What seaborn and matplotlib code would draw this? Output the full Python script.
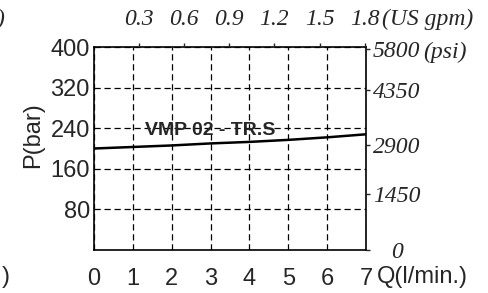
import numpy as np
import pandas as pd
import seaborn as sns
import matplotlib.pyplot as plt

# pressure drop curve
flow_lpm = [0, 1, 2, 3, 4, 5, 6, 7]
pressure_bar = [200, 203, 206, 210, 213, 217, 222, 228]

bar_ticks = [80, 160, 240, 320, 400]
flow_ticks = [0, 1, 2, 3, 4, 5, 6, 7]

# secondary scales as they are printed on the sheet
gpm_ticks = [0.3, 0.6, 0.9, 1.2, 1.5, 1.8]
lpm_per_gpm = 3.87
psi_labels = ['5800', '4350', '2900', '1450', '0']
psi_at_bar = [396, 316, 207, 110, 0]

df = pd.DataFrame({'Q': flow_lpm, 'P': pressure_bar})

sns.set_style('white')
plt.rcParams['font.family'] = ['Liberation Sans', 'DejaVu Sans']

fig = plt.figure(figsize=(4.89, 2.93), dpi=100)
ax = fig.add_axes([94 / 489, 43 / 293, 272 / 489, 203 / 293])

sns.lineplot(data=df, x='Q', y='P', ax=ax, color='black', linewidth=1.8)

ax.set_xlim(0, 7)
ax.set_ylim(0, 400)
ax.set_xticks(flow_ticks)
ax.set_yticks(bar_ticks)
ax.set_xlabel('')
ax.set_ylabel('')
ax.grid(True, color='black', linestyle=(0, (5, 3)), linewidth=0.9)
for s in ax.spines.values():
    s.set_color('black')
    s.set_linewidth(1.2)
ax.tick_params(axis='x', length=0, pad=13, labelsize=17)
ax.tick_params(axis='y', length=0, pad=3, labelsize=17)

serif = dict(family='Liberation Serif', style='italic')

# top axis in US gpm
axt = ax.twiny()
axt.set_xlim(0, 7)
axt.set_xticks([g * lpm_per_gpm for g in gpm_ticks])
axt.set_xticklabels([str(g) for g in gpm_ticks], fontdict=serif, fontsize=17)
axt.tick_params(axis='x', direction='out', length=3, width=1, pad=9)

# right axis in psi
axr = ax.twinx()
axr.set_ylim(0, 400)
axr.set_yticks(psi_at_bar)
axr.set_yticklabels(psi_labels, fontdict=serif, fontsize=17)
axr.tick_params(axis='y', direction='out', length=3, width=1, pad=19)
for lab in axr.get_yticklabels():
    lab.set_ha('center')
for a in (axt, axr):
    for s in a.spines.values():
        s.set_visible(False)

ax.text(3.0, 219, 'VMP 02 - TR.S', ha='center', va='bottom',
        fontweight='bold', fontsize=14)

fig.text(33 / 489, 1 - 135 / 293, 'P(bar)', rotation=90, ha='center', va='center', fontsize=17)
fig.text(377 / 489, 1 - 277 / 293, 'Q(l/min.)', ha='left', va='center', fontsize=17)
fig.text(382 / 489, 1 - 19 / 293, '(US gpm)', ha='left', va='center', fontsize=17, **serif)
fig.text(423 / 489, 1 - 52 / 293, '(psi)', ha='left', va='center', fontsize=17, **serif)
fig.text(10 / 489, 1 - 277 / 293, ')', ha='right', va='center', fontsize=17)
fig.text(4 / 489, 1 - 19 / 293, ')', ha='right', va='center', fontsize=17, **serif)

fig.savefig('out.png', dpi=100)
